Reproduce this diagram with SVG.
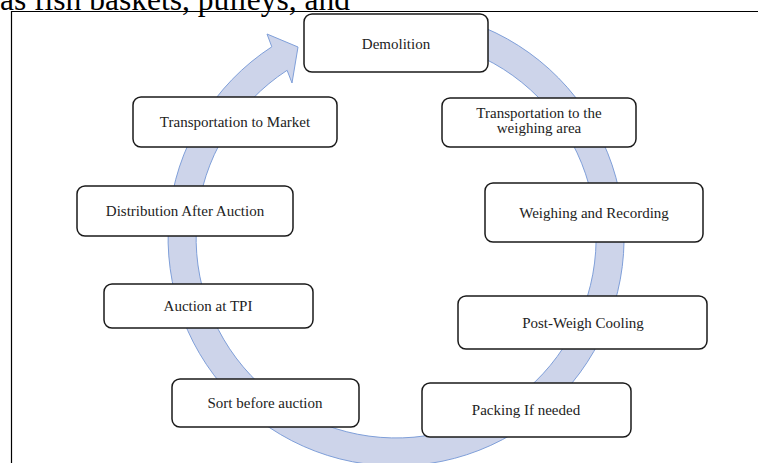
<svg xmlns="http://www.w3.org/2000/svg" width="758" height="463" viewBox="0 0 758 463">
<style>
.box{fill:#ffffff;stroke:#1a1a1a;stroke-width:1.5}
.lbl{font-family:"Liberation Serif","Times New Roman",serif;font-size:15px;fill:#222;text-anchor:middle}
.ring{fill:#cdd4ea;stroke:#7f9fd9;stroke-width:1}
.frame{stroke:#000;stroke-width:1.2;fill:none}
</style>
<rect x="0" y="0" width="758" height="463" fill="#ffffff"/>
<text x="0" y="10" font-family="'Liberation Serif','Times New Roman',serif" font-size="31.5" fill="#000">as fish baskets, pulleys, and</text>
<path class="frame" d="M11.5,463 V11.5 H758"/>
<g id="connectors">
<path class="ring" d="M460,19.1 A228,228 0 1 1 271.8,46.8 L267,34 L298,47 L292,83 L287.1,70.3 A200,200 0 1 0 452.2,46 Z"/>
</g>
<g id="n1"><rect class="box" x="304" y="14" width="184" height="58" rx="8"/><text class="lbl" x="396" y="49">Demolition</text></g>
<g id="n2"><rect class="box" x="442" y="98" width="194" height="49" rx="8"/><text class="lbl" x="539" y="118">Transportation to the</text><text class="lbl" x="539" y="133">weighing area</text></g>
<g id="n3"><rect class="box" x="485" y="183" width="218" height="59" rx="8"/><text class="lbl" x="594" y="218">Weighing and Recording</text></g>
<g id="n4"><rect class="box" x="458" y="296" width="249" height="53" rx="8"/><text class="lbl" x="583" y="328">Post-Weigh Cooling</text></g>
<g id="n5"><rect class="box" x="422" y="383" width="209" height="54" rx="8"/><text class="lbl" x="526" y="415">Packing If needed</text></g>
<g id="n6"><rect class="box" x="172" y="379" width="187" height="48" rx="8"/><text class="lbl" x="265" y="408">Sort before auction</text></g>
<g id="n7"><rect class="box" x="104" y="284" width="209" height="44" rx="8"/><text class="lbl" x="208" y="311">Auction at TPI</text></g>
<g id="n8"><rect class="box" x="77" y="186" width="216" height="50" rx="8"/><text class="lbl" x="185" y="216">Distribution After Auction</text></g>
<g id="n9"><rect class="box" x="133" y="97" width="204" height="50" rx="8"/><text class="lbl" x="235" y="127">Transportation to Market</text></g>
</svg>
